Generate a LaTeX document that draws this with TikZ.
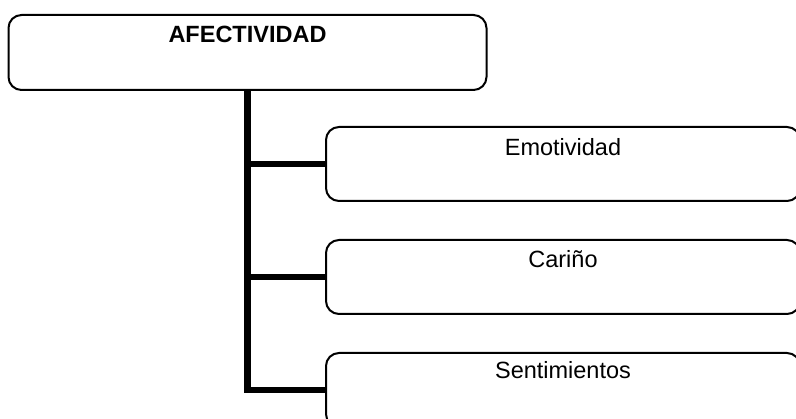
\documentclass[tikz,border=0pt]{standalone}
\usepackage{fontspec}
\setmainfont{Liberation Sans}
\begin{document}
\begin{tikzpicture}[x=1pt,y=-1pt,
  box/.style={draw=black, line width=2pt, rounded corners=13pt, outer sep=0pt, inner sep=0pt, fill=white},
  topbox/.style={box, minimum width=478pt, minimum height=75pt},
  childbox/.style={box, minimum width=474pt, minimum height=74pt},
  conn/.style={draw=black, line width=6.5pt, line join=miter},
  lbl/.style={font=\fontsize{23.5}{28}\selectfont, inner sep=0pt, anchor=north}
]
\useasboundingbox (0,0) rectangle (796,419);
\clip (0,0) rectangle (796,419);
\fill[white] (0,0) rectangle (796,419);
\node[topbox, label={[lbl, font=\fontsize{23.5}{28}\selectfont\bfseries, yshift=-11pt]north:AFECTIVIDAD}] (top) at (247.5,52.5) {};
\node[childbox, label={[lbl, yshift=-11pt]north:Emotividad}] (c1) at (563,164) {};
\node[childbox, label={[lbl, yshift=-10pt]north:Cariño}] (c2) at (563,277) {};
\node[childbox, label={[lbl, yshift=-8pt]north:Sentimientos}] (c3) at (563,390) {};
\draw[conn] (top.south) -- (top.south |- c3.west) -- (c3.west);
\draw[conn] (top.south |- c1.west) -- (c1.west);
\draw[conn] (top.south |- c2.west) -- (c2.west);
\end{tikzpicture}
\end{document}
